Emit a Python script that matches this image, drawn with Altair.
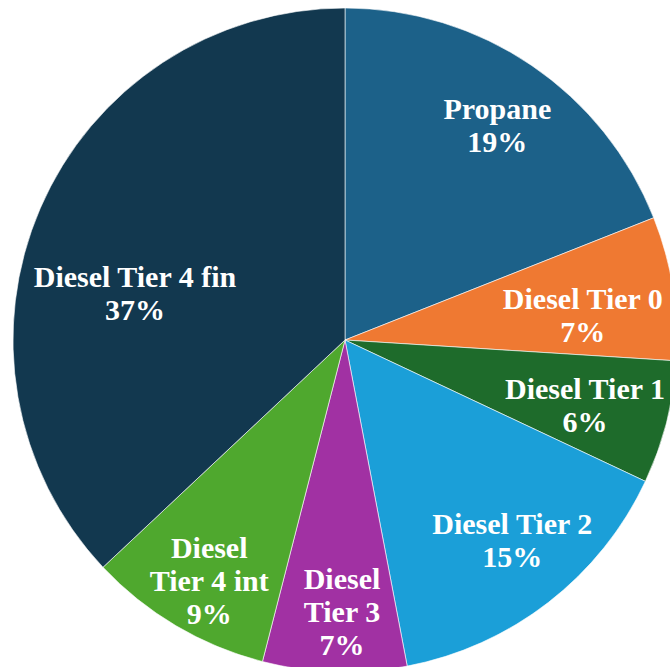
import math
import altair as alt
import pandas as pd

categories = ["Propane", "Diesel Tier 0", "Diesel Tier 1", "Diesel Tier 2",
              "Diesel Tier 3", "Diesel Tier 4 int", "Diesel Tier 4 fin"]
shares = [19, 7, 6, 15, 7, 9, 37]
label_lines = [["Propane", "19%"], ["Diesel Tier 0", "7%"], ["Diesel Tier 1", "6%"],
               ["Diesel Tier 2", "15%"], ["Diesel", "Tier 3", "7%"],
               ["Diesel", "Tier 4 int", "9%"], ["Diesel Tier 4 fin", "37%"]]
colors = ["#1c6189", "#ef7932", "#1e6b2b", "#1b9fd8", "#a131a3", "#4fa82e", "#12384f"]

df = pd.DataFrame({
    "category": categories,
    "share": shares,
    "order": list(range(len(categories))),
    "label": ["\n".join(l) for l in label_lines],
})

LH = 33
theta_scale = alt.Scale(domain=[0, 100], range=[0, 2 * math.pi])

arcs = alt.Chart(df).mark_arc(radius=332, stroke="#ffffff", strokeWidth=0.6).encode(
    theta=alt.Theta("share:Q", stack=True, scale=theta_scale),
    order=alt.Order("order:Q"),
    x=alt.value(345), y=alt.value(340),
    color=alt.Color("category:N", scale=alt.Scale(domain=categories, range=colors), legend=None),
)

tbase = alt.Chart(df).transform_window(
    cum="sum(share)", sort=[alt.SortField("order")], frame=[None, 0]
).transform_calculate(mid="datum.cum - datum.share / 2").encode(
    theta=alt.Theta("mid:Q", scale=theta_scale),
    x=alt.value(345), y=alt.value(340), text="label:N",
)

text_style = dict(font="Liberation Serif", fontWeight="bold", fontSize=30,
                  color="white", lineBreak="\n", lineHeight=LH, align="center",
                  baseline="middle")

# label nudges (pixels) relative to the slice mid-angle at radius 255
nudges = {
    "Propane": (9, -19), "Diesel Tier 0": (-14, 0), "Diesel Tier 1": (-7, -13),
    "Diesel Tier 2": (11, -16), "Diesel Tier 3": (5, -15),
    "Diesel Tier 4 int": (-6, -10), "Diesel Tier 4 fin": (24, 39),
}

layers = [arcs]
for c in categories:
    dx, dy = nudges[c]
    layers.append(
        tbase.mark_text(radius=255, dx=dx, dy=dy, **text_style)
        .transform_filter(alt.datum.category == c)
    )

chart = alt.layer(*layers).properties(
    width=670, height=667, padding=0, autosize=alt.AutoSizeParams(type="none")
).configure_view(stroke=None)

chart.save("out.html", embed_options={"renderer": "svg", "actions": False})
